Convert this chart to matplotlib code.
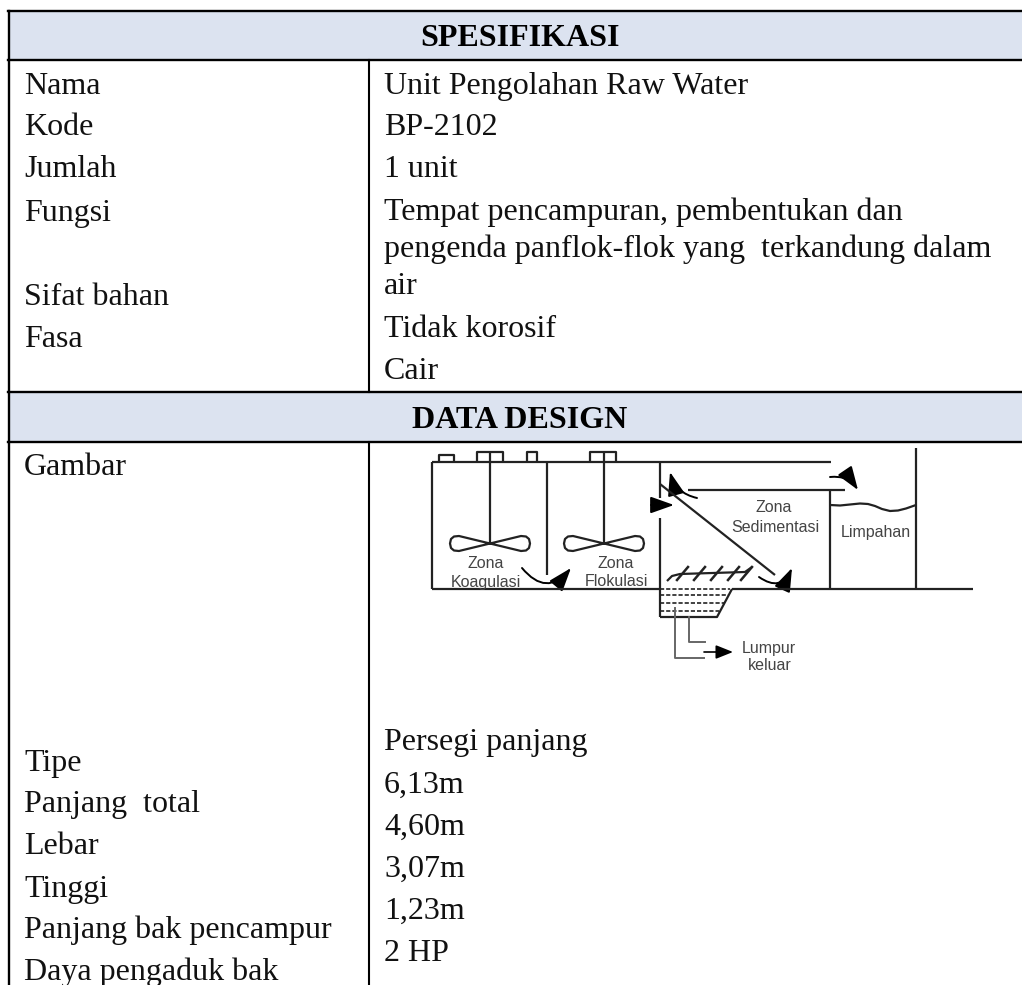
import matplotlib
matplotlib.use("Agg")
import matplotlib.pyplot as plt
from matplotlib.patches import Rectangle, FancyArrowPatch

# table text
judul_atas = "SPESIFIKASI"
judul_bawah = "DATA DESIGN"
kiri_atas = ["Nama", "Kode", "Jumlah", "Fungsi", "Sifat bahan", "Fasa"]
kiri_atas_y = [94, 135, 177, 221, 305, 347]
kanan_atas = ["Unit Pengolahan Raw Water", "BP-2102", "1 unit",
              "Tempat pencampuran, pembentukan dan",
              "pengenda panflok-flok yang  terkandung dalam", "air",
              "Tidak korosif", "Cair"]
kanan_atas_y = [94, 135, 177, 220, 257, 294, 337, 379]
kiri_bawah = ["Gambar", "Tipe", "Panjang  total", "Lebar", "Tinggi",
              "Panjang bak pencampur", "Daya pengaduk bak"]
kiri_bawah_y = [475, 771, 812, 854, 897, 938, 980]
kanan_bawah = ["Persegi panjang", "6,13m", "4,60m", "3,07m", "1,23m", "2 HP"]
kanan_bawah_y = [750, 793, 835, 877, 919, 961]

SERIF = "Liberation Serif"
SANS = "Liberation Sans"
FS = 23

fig = plt.figure(figsize=(10.22, 9.85), dpi=100)
ax = fig.add_axes([0, 0, 1, 1])
ax.set_xlim(0, 1022)
ax.set_ylim(985, 0)
ax.axis("off")

# header bands
for y0, y1 in [(11, 60), (392, 442)]:
    ax.add_patch(Rectangle((9, y0), 1013, y1 - y0, fc="#dce3f0", ec="none"))
for y in [11, 60, 392, 442]:
    ax.plot([8, 1022], [y, y], color="black", lw=1.7)
ax.plot([9, 9], [11, 985], color="black", lw=1.7)
ax.plot([369, 369], [60, 392], color="black", lw=1.5)
ax.plot([369, 369], [442, 985], color="black", lw=1.5)

ax.text(520, 46, judul_atas, family=SERIF, weight="bold", size=FS, ha="center", va="baseline")
ax.text(520, 428, judul_bawah, family=SERIF, weight="bold", size=FS, ha="center", va="baseline")
for teks, ys, x in [(kiri_atas, kiri_atas_y, 24), (kanan_atas, kanan_atas_y, 384),
                    (kiri_bawah, kiri_bawah_y, 24), (kanan_bawah, kanan_bawah_y, 384)]:
    for t, y in zip(teks, ys):
        ax.text(x, y, t, family=SERIF, size=FS, ha="left", va="baseline", color="#111111")

# diagram
garis = dict(color="#222222", lw=1.6, solid_capstyle="butt", solid_joinstyle="round")
ax.plot([432, 432], [462, 589], **garis)
ax.plot([432, 831], [462, 462], **garis)
ax.plot([432, 660], [589, 589], **garis)
ax.plot([732, 973], [589, 589], **garis)
ax.plot([660, 660], [462, 498], **garis)
ax.plot([660, 660], [518, 617], **garis)
ax.plot([660, 717, 732], [617, 617, 589], **garis)
ax.plot([688, 845], [490, 490], **garis)
ax.plot([830, 830], [490, 589], **garis)
ax.plot([916, 916], [448, 589], **garis)
ax.plot([547, 547], [462, 575], **garis)
ax.plot([490, 490], [452, 543], **garis)
ax.plot([604, 604], [452, 543], **garis)
ax.plot([660, 775], [484, 575], **garis)
ax.plot([830, 840, 850, 860, 868, 875, 882, 890, 898, 906, 916],
        [505, 505.5, 504.5, 503.5, 504, 506, 509, 511, 510.5, 508.5, 505], **garis)

for x0, x1, y in [(439, 454, 455), (477, 503, 452), (527, 537, 452), (590, 616, 452)]:
    ax.plot([x0, x0, x1, x1], [462, y, y, 462], **garis)

# impeller blades
for cx in [490, 604]:
    ax.plot([cx, cx - 31, cx - 36, cx - 39, cx - 40, cx - 39, cx - 36, cx - 31, cx,
             cx + 31, cx + 36, cx + 39, cx + 40, cx + 39, cx + 36, cx + 31, cx],
            [543.5, 536, 536.5, 539, 543.5, 548, 550.5, 551, 543.5,
             536, 536.5, 539, 543.5, 548, 550.5, 551, 543.5], **garis)

# settling tube hatching
ax.plot([667, 672, 680, 745, 752], [581, 576, 574, 572, 567], **garis)
for x in [677, 694, 711, 728, 741]:
    ax.plot([x, x + 11], [580, 567], color="#222222", lw=1.8)

# sludge lines
for x1, y in [(730, 589), (728, 595), (724, 603), (719, 611)]:
    ax.plot([660, x1], [y, y], color="#222222", lw=1.2, ls=(0, (2.5, 1.2)))

# outlet pipes
pipa = dict(color="#666666", lw=1.4)
ax.plot([675, 675, 704], [608, 658, 658], **pipa)
ax.plot([689, 689, 705], [617, 642, 642], **pipa)

# arrows
panah = dict(arrowstyle="-|>,head_length=0.9,head_width=0.32", color="black", lw=1.4, mutation_scale=16,
             shrinkA=0, shrinkB=0)
panah_kecil = dict(arrowstyle="-|>,head_length=0.8,head_width=0.32", color="black", lw=1.2, mutation_scale=13,
                   shrinkA=0, shrinkB=0)
ax.add_patch(FancyArrowPatch((522, 568), (571, 568), connectionstyle="arc3,rad=0.6", **panah))
ax.add_patch(FancyArrowPatch((697, 498), (670, 472), connectionstyle="arc3,rad=-0.3", **panah))
ax.add_patch(FancyArrowPatch((830, 477), (858, 490), connectionstyle="arc3,rad=-0.3", **panah))
ax.add_patch(FancyArrowPatch((759, 577), (792, 568), connectionstyle="arc3,rad=0.6", **panah))
ax.add_patch(FancyArrowPatch((651, 505), (674, 505), **panah))
ax.add_patch(FancyArrowPatch((704, 652), (733, 652), **panah_kecil))

# diagram labels
label = [("Zona", 486, 564), ("Koagulasi", 486, 582), ("Zona", 616, 564), ("Flokulasi", 616, 582),
         ("Zona", 774, 508), ("Sedimentasi", 775, 527), ("Limpahan", 876, 532),
         ("Lumpur", 769, 648), ("keluar", 770, 666)]
for t, x, y in label:
    ax.text(x, y, t, family=SANS, size=11.5, color="#444444", ha="center", va="center")

fig.savefig("out.png", dpi=100)
